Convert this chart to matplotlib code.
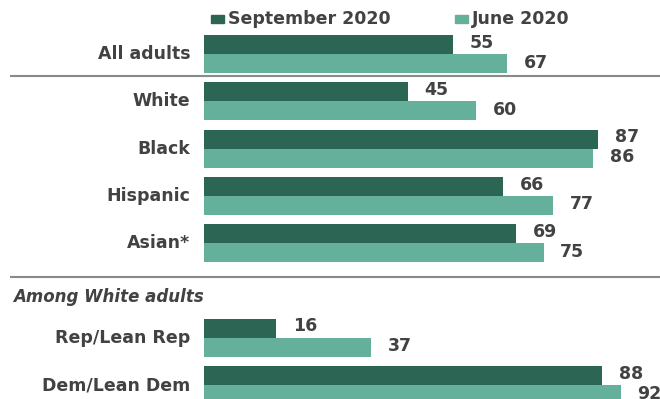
import matplotlib.pyplot as plt
import numpy as np

categories = ["All adults", "White", "Black", "Hispanic", "Asian*",
              "Rep/Lean Rep", "Dem/Lean Dem"]
september_2020 = [55, 45, 87, 66, 69, 16, 88]
june_2020 = [67, 60, 86, 77, 75, 37, 92]

# row slots, leaving one empty slot before the partisan subgroup
rows = np.array([0, 1, 2, 3, 4, 6, 7])

dark = "#2c6553"
light = "#64b09b"
txt = "#424242"
fs = 12.5

fig = plt.figure(figsize=(6.6, 3.99), dpi=100)
ax = fig.add_axes([0, 0, 1, 1])
ax.set_xlim(-45.0, 100.7)
ax.set_ylim(7.294, -1.1416)
ax.axis("off")

h = 0.40
ax.barh(rows - h / 2, september_2020, height=h, color=dark)
ax.barh(rows + h / 2, june_2020, height=h, color=light)

for r, s, j in zip(rows, september_2020, june_2020):
    ax.text(s + 3.7, r - h / 2 - 0.04, str(s), ha="left", va="center",
            fontsize=fs, fontweight="bold", color=txt)
    ax.text(j + 3.7, r + h / 2 - 0.02, str(j), ha="left", va="center",
            fontsize=fs, fontweight="bold", color=txt)

for r, c in zip(rows, categories):
    ax.text(-3.0, r, c, ha="right", va="center", fontsize=fs,
            fontweight="bold", color=txt)

# divider lines
for y in (0.465, 4.71):
    ax.plot([-42.8, 100.7], [y, y], color="#8a8a8a", lw=1.5,
            solid_capstyle="butt")

ax.text(-42.2, 5.14, "Among White adults", ha="left", va="center",
        fontsize=12, style="italic", fontweight="bold", color=txt)

# legend
ax.add_patch(plt.Rectangle((1.5, -0.82), 3.0, 0.16, color=dark))
ax.text(5.3, -0.74, "September 2020", ha="left", va="center",
        fontsize=fs, fontweight="bold", color=txt)
ax.add_patch(plt.Rectangle((55.4, -0.82), 3.0, 0.16, color=light))
ax.text(59.2, -0.74, "June 2020", ha="left", va="center",
        fontsize=fs, fontweight="bold", color=txt)

fig.savefig("out.png", dpi=100)
